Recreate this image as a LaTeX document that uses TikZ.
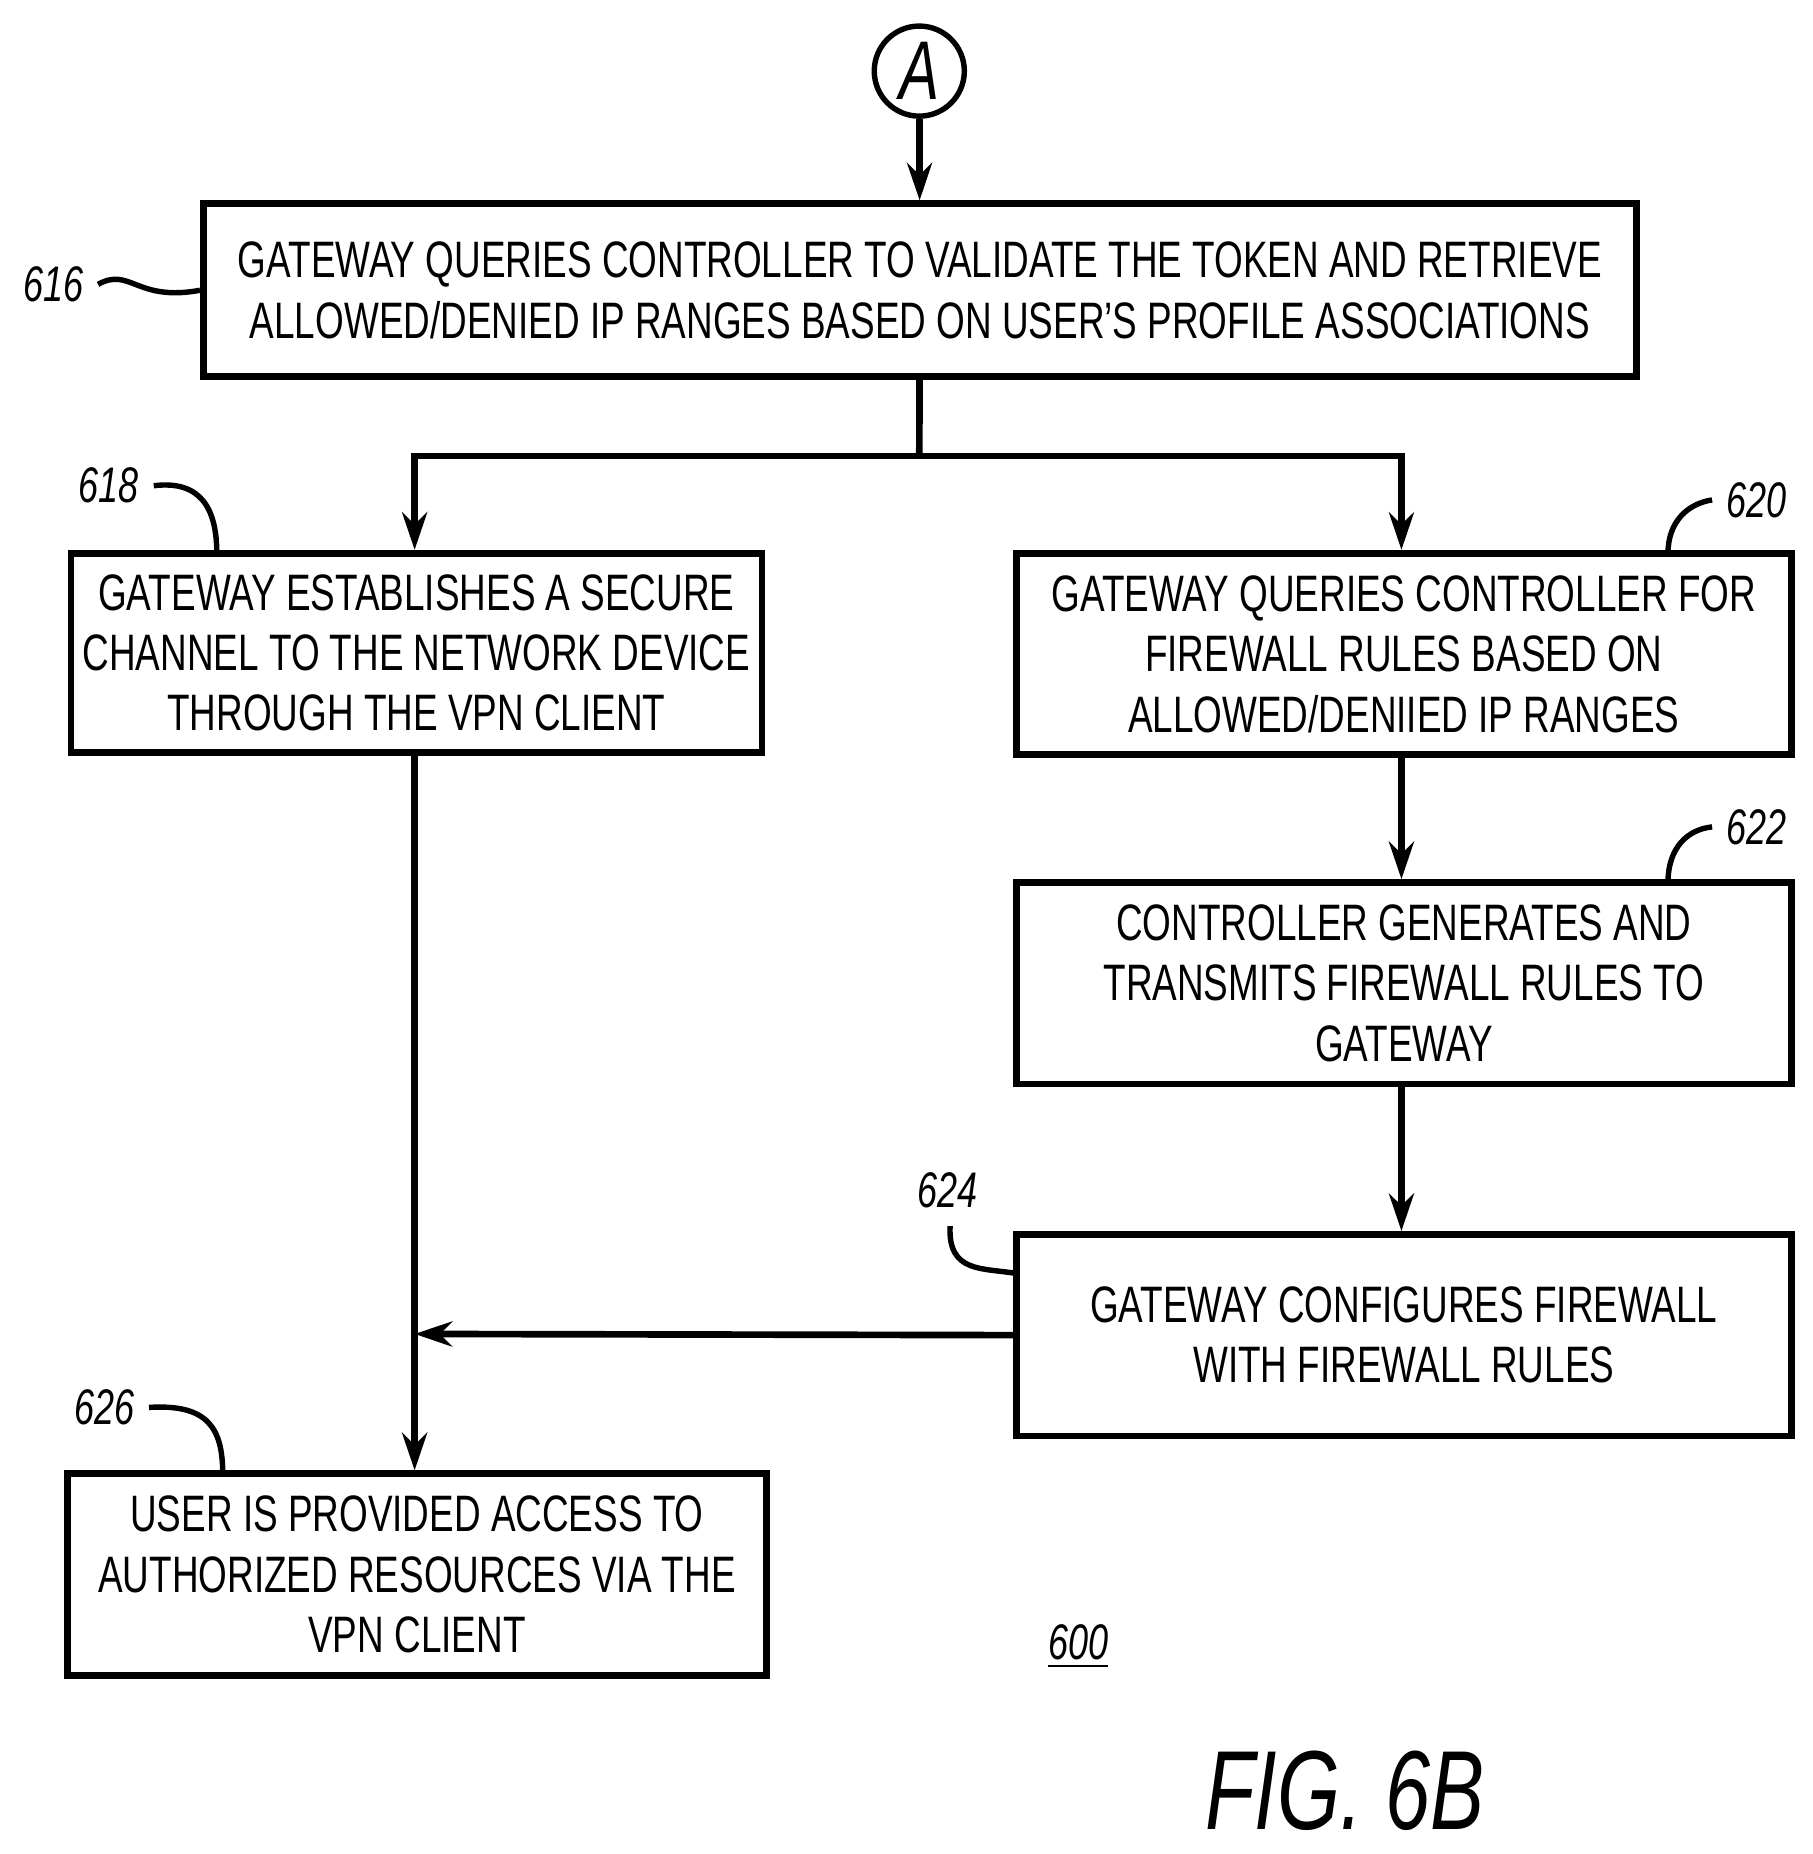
\documentclass[tikz,border=0pt]{standalone}
\usepackage{fontspec}
\setmainfont{Liberation Sans}[FakeStretch=0.72]
\usetikzlibrary{arrows.meta}
\begin{document}
\begin{tikzpicture}[x=0.01cm,y=-0.01cm,
  box/.style={draw,line width=1.6pt,inner sep=0pt,align=center,font=\fontsize{12.3}{14.5}\selectfont},
  ln/.style={line width=1.6pt},
  ar/.style={ln,-{Stealth[length=9pt,width=6pt]}},
  lab/.style={font=\fontsize{12}{14}\itshape\selectfont},
  sq/.style={line width=1.3pt}]
\useasboundingbox (0,0) rectangle (1530,1565);
\node[draw,circle,line width=1.3pt,minimum size=0.76cm,inner sep=0pt] (A) at (776,60) {\fontsize{20}{20}\itshape\selectfont A};
\node[box,minimum width=12.09cm,minimum height=1.46cm] (b616) at (776.5,245) {GATEWAY QUERIES CONTROLLER TO VALIDATE THE TOKEN AND RETRIEVE\\ALLOWED/DENIED IP RANGES BASED ON USER'S PROFILE ASSOCIATIONS};
\node[box,minimum width=5.83cm,minimum height=1.68cm] (b618) at (351.5,551) {GATEWAY ESTABLISHES A SECURE\\CHANNEL TO THE NETWORK DEVICE\\THROUGH THE VPN CLIENT};
\node[box,minimum width=6.54cm,minimum height=1.70cm] (b620) at (1185,552) {GATEWAY QUERIES CONTROLLER FOR\\FIREWALL RULES BASED ON\\ALLOWED/DENIIED IP RANGES};
\node[box,minimum width=6.54cm,minimum height=1.70cm] (b622) at (1185,830) {CONTROLLER GENERATES AND\\TRANSMITS FIREWALL RULES TO\\GATEWAY};
\node[box,minimum width=6.54cm,minimum height=1.70cm] (b624) at (1185,1127) {GATEWAY CONFIGURES FIREWALL\\WITH FIREWALL RULES};
\node[box,minimum width=5.90cm,minimum height=1.70cm] (b626) at (352,1329) {USER IS PROVIDED ACCESS TO\\AUTHORIZED RESOURCES VIA THE\\VPN CLIENT};
\coordinate (j) at (776,385);
\coordinate (m) at (350,1126);
\draw[ar] (A) -- (b616);
\draw[ln] (b616) -- (j);
\draw[ar] (j) -| (b618.north-|350,0);
\draw[ar] (j) -| (b620.north-|1183,0);
\draw[ar] (b618.south-|350,0) -- (b626.north-|350,0);
\draw[ar] (b624.west) -- (m);
\draw[ar] (b620.south-|1183,0) -- (b622.north-|1183,0);
\draw[ar] (b622.south-|1183,0) -- (b624.north-|1183,0);
\node[lab] (l616) at (45,240) {616};
\draw[sq] (l616.east) .. controls (110,225) and (115,255) .. (b616.west|-0,245);
\node[lab] (l618) at (92,410) {618};
\draw[sq] (l618.east) .. controls (170,405) and (183,430) .. (183,467);
\node[lab] (l620) at (1483,422) {620};
\draw[sq] (l620.west) .. controls (1425,425) and (1408,440) .. (1408,467);
\node[lab] (l622) at (1483,698) {622};
\draw[sq] (l622.west) .. controls (1425,700) and (1408,715) .. (1408,745);
\node[lab] (l624) at (800,1005) {624};
\draw[sq] (802,1035) .. controls (800,1075) and (830,1070) .. (858,1075);
\node[lab] (l626) at (88,1188) {626};
\draw[sq] (l626.east) .. controls (175,1185) and (188,1205) .. (188,1244);
\node[lab] (l600) at (910,1390) {\underline{600}};
\node (fig) at (1135,1512) {\fontsize{27}{27}\itshape\selectfont FIG. 6B};
\end{tikzpicture}
\end{document}
